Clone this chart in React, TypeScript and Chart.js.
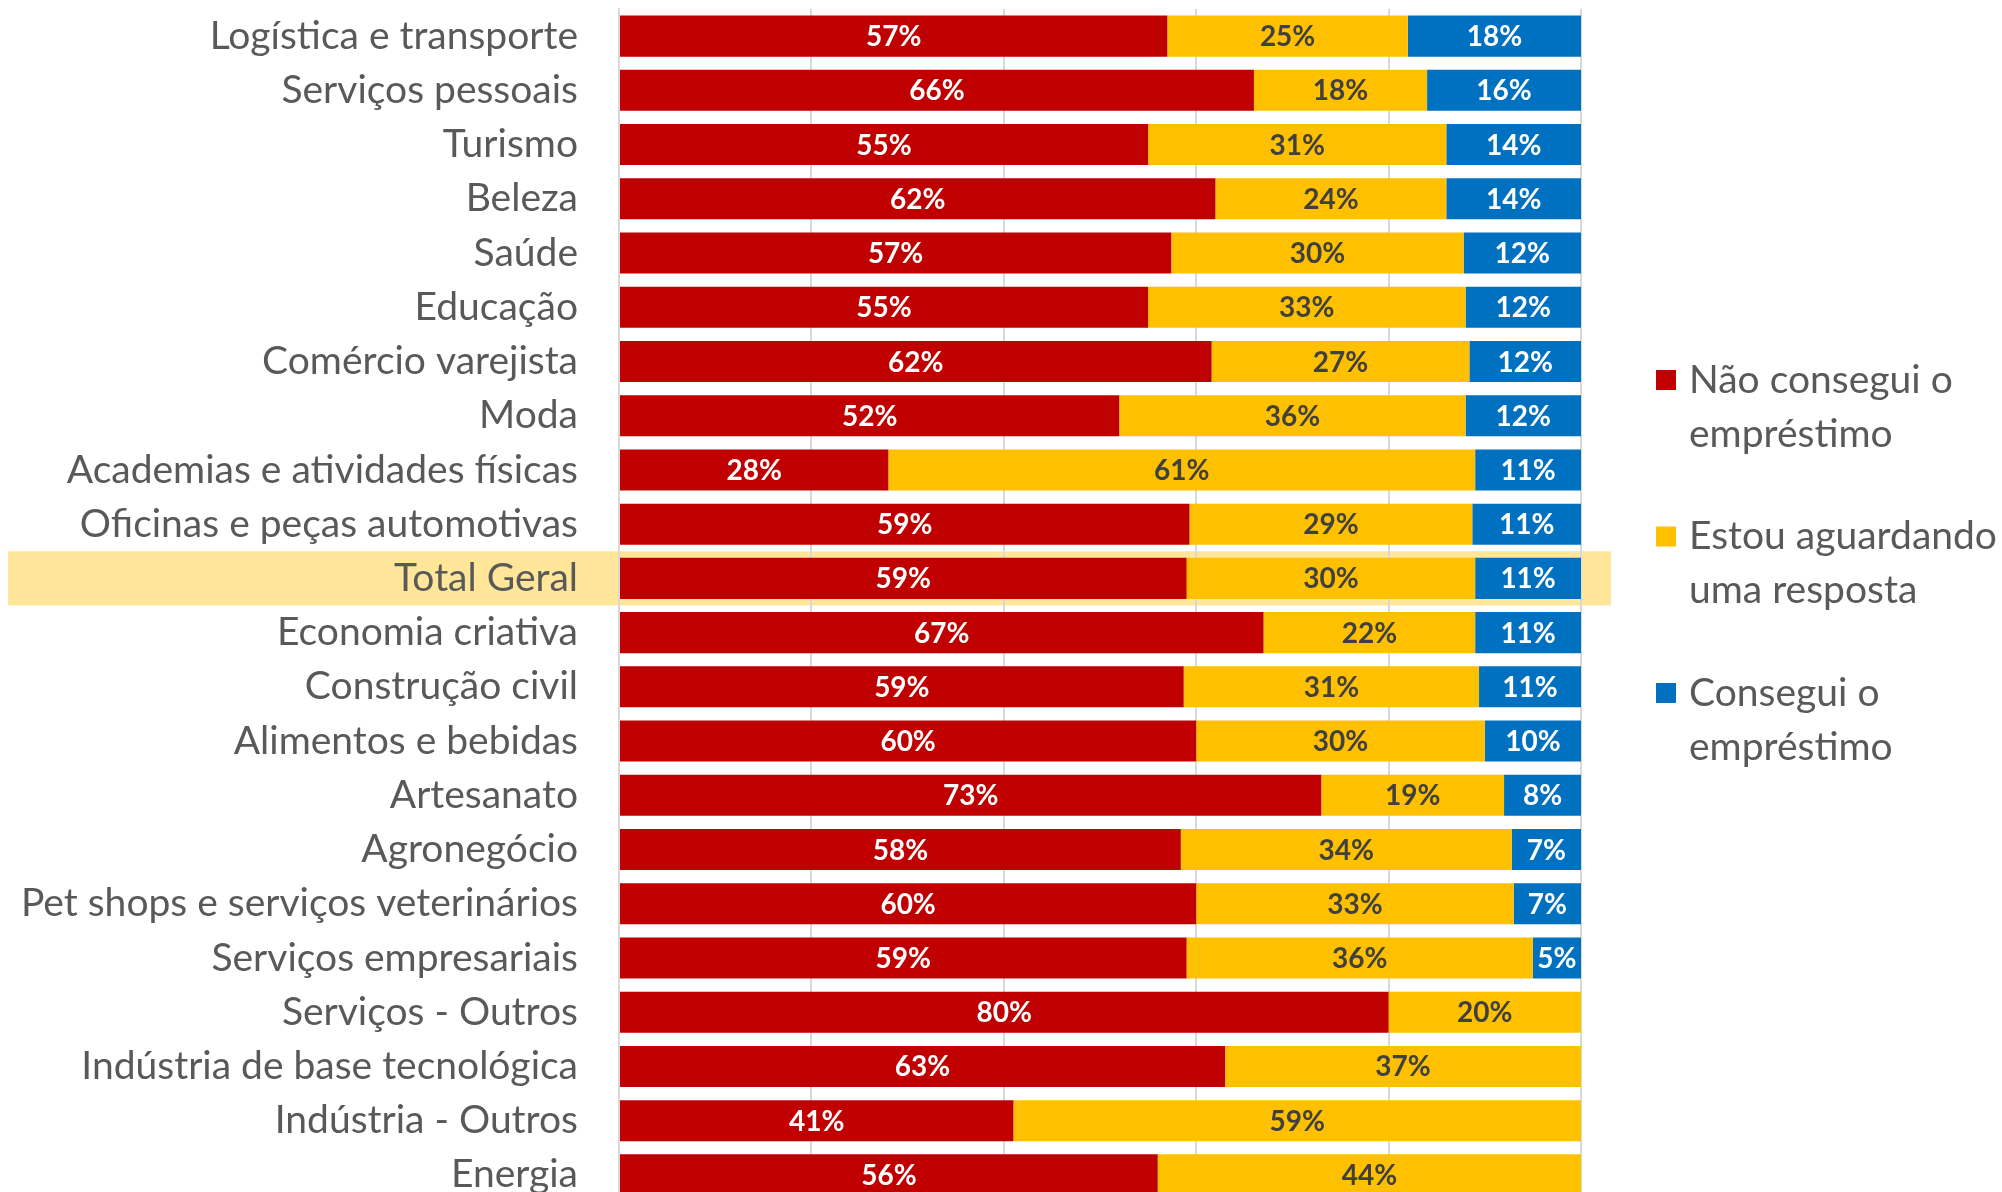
import React, { useEffect, useRef } from "react";
import { Chart, registerables } from "chart.js";

Chart.register(...registerables);

const categories = [
  "Logística e transporte",
  "Serviços pessoais",
  "Turismo",
  "Beleza",
  "Saúde",
  "Educação",
  "Comércio varejista",
  "Moda",
  "Academias e atividades físicas",
  "Oficinas e peças automotivas",
  "Total Geral",
  "Economia criativa",
  "Construção civil",
  "Alimentos e bebidas",
  "Artesanato",
  "Agronegócio",
  "Pet shops e serviços veterinários",
  "Serviços empresariais",
  "Serviços - Outros",
  "Indústria de base tecnológica",
  "Indústria - Outros",
  "Energia",
];

const naoConsegui = [57, 66, 55, 62, 57.4, 55, 61.6, 52, 28, 59.3, 59, 67, 58.7, 60, 73, 58.4, 60, 59, 80, 63, 41, 56];
const aguardando = [25, 18, 31, 24, 30.4, 33, 26.8, 36, 61, 29.4, 30, 22, 30.7, 30, 19, 34.4, 33, 36, 20, 37, 59, 44];
const consegui = [18, 16, 14, 14, 12.2, 12, 11.6, 12, 11, 11.3, 11, 11, 10.6, 10, 8, 7.2, 7, 5, 0, 0, 0, 0];

const seriesNames = [
  ["Não consegui o", "empréstimo"],
  ["Estou aguardando", "uma resposta"],
  ["Consegui o", "empréstimo"],
];
const seriesColors = ["#C00000", "#FFC000", "#0070C0"];
const labelColors = ["#FFFFFF", "#404040", "#FFFFFF"];
const highlightCategory = "Total Geral";

const FONT = "Lato, 'Open Sans', sans-serif";

export default function App() {
  const ref = useRef<HTMLCanvasElement | null>(null);

  useEffect(() => {
    if (!ref.current) return;

    const highlightPlugin = {
      id: "highlight",
      beforeDraw(chart: any) {
        const y = chart.scales.y;
        const idx = categories.indexOf(highlightCategory);
        if (idx < 0) return;
        const pitch = y.getPixelForValue(1) - y.getPixelForValue(0);
        const c = y.getPixelForValue(idx);
        const ctx = chart.ctx;
        ctx.save();
        ctx.fillStyle = "#FFE699";
        ctx.fillRect(8, c - pitch / 2, chart.chartArea.right + 30 - 8, pitch);
        ctx.restore();
      },
    };

    const labelsPlugin = {
      id: "barLabels",
      afterDatasetsDraw(chart: any) {
        const ctx = chart.ctx;
        ctx.save();
        ctx.font = `bold 28px ${FONT}`;
        ctx.textAlign = "center";
        ctx.textBaseline = "middle";
        chart.data.datasets.forEach((ds: any, di: number) => {
          const meta = chart.getDatasetMeta(di);
          meta.data.forEach((bar: any, i: number) => {
            const v = ds.data[i];
            if (!v) return;
            const cx = (bar.x + bar.base) / 2;
            ctx.fillStyle = labelColors[di];
            ctx.fillText(Math.round(v) + "%", cx, bar.y + 1);
          });
        });
        ctx.restore();
      },
    };

    const legendPlugin = {
      id: "customLegend",
      afterDraw(chart: any) {
        const ctx = chart.ctx;
        ctx.save();
        const startY = 380;
        const gap = 156.5;
        const lineH = 54;
        ctx.font = `39px ${FONT}`;
        ctx.textBaseline = "middle";
        ctx.textAlign = "left";
        seriesNames.forEach((lines, i) => {
          const y0 = startY + i * gap;
          ctx.fillStyle = seriesColors[i];
          ctx.fillRect(1656, y0 - 10, 20, 20);
          ctx.fillStyle = "#595959";
          lines.forEach((ln, j) => {
            ctx.fillText(ln, 1689, y0 + j * lineH);
          });
        });
        ctx.restore();
      },
    };

    const chart = new Chart(ref.current, {
      type: "bar",
      data: {
        labels: categories,
        datasets: [naoConsegui, aguardando, consegui].map((d, i) => ({
          label: seriesNames[i].join(" "),
          data: d,
          backgroundColor: seriesColors[i],
          borderWidth: 0,
          barPercentage: 0.757,
          categoryPercentage: 1,
        })),
      },
      options: {
        indexAxis: "y",
        animation: false,
        responsive: false,
        maintainAspectRatio: false,
        layout: { padding: { top: 9, bottom: 0, left: 0, right: 421 } },
        plugins: {
          legend: { display: false },
          tooltip: { enabled: false },
        },
        scales: {
          x: {
            stacked: true,
            min: 0,
            max: 100,
            ticks: { display: false, stepSize: 20 },
            grid: { color: "#D9D9D9", lineWidth: 2, drawTicks: false },
            border: { display: false },
            afterFit(scale: any) {
              scale.height = 0;
              scale.paddingLeft = 0;
              scale.paddingRight = 0;
            },
          },
          y: {
            stacked: true,
            grid: { display: false, drawTicks: false },
            border: { display: true, color: "#D9D9D9", width: 2 },
            ticks: {
              color: "#595959",
              padding: 41,
              font: { family: FONT, size: 39 },
            },
            afterFit(scale: any) {
              scale.width = 619;
              scale.paddingTop = 0;
              scale.paddingBottom = 0;
            },
          },
        },
      },
      plugins: [highlightPlugin, labelsPlugin, legendPlugin],
    } as any);

    return () => chart.destroy();
  }, []);

  return (
    <div
      style={{
        position: "fixed",
        left: 0,
        top: 0,
        width: 2002,
        height: 1192,
        overflow: "hidden",
        background: "#fff",
      }}
    >
      <canvas ref={ref} width={2002} height={1202} style={{ display: "block" }} />
    </div>
  );
}
